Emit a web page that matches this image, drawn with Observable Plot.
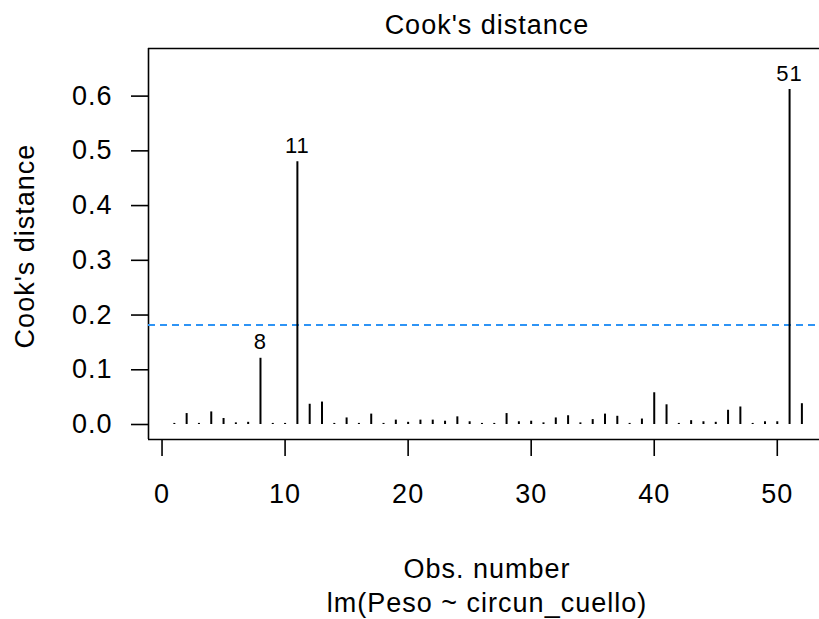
<!DOCTYPE html>
<html>
<head>
<meta charset="utf-8">
<script src="https://cdn.jsdelivr.net/npm/d3@7"></script>
<script src="https://cdn.jsdelivr.net/npm/@observablehq/plot@0.6"></script>
<style>
  html, body { margin: 0; padding: 0; background: white; overflow: hidden; }
</style>
</head>
<body>
<div id="chart"></div>
<script>
const obsNumbers = d3.range(1, 53);
const cookValues = [
  0.002, 0.020, 0.002, 0.023, 0.011, 0.003, 0.004, 0.121, 0.002, 0.002,
  0.480, 0.037, 0.041, 0.002, 0.012, 0.002, 0.019, 0.002, 0.008, 0.004,
  0.008, 0.008, 0.006, 0.014, 0.005, 0.002, 0.002, 0.020, 0.005, 0.006,
  0.003, 0.012, 0.016, 0.003, 0.009, 0.019, 0.015, 0.002, 0.010, 0.058,
  0.036, 0.002, 0.007, 0.005, 0.004, 0.026, 0.032, 0.002, 0.005, 0.005,
  0.612, 0.038
];
const labelledObs = [8, 11, 51];
const threshold = 0.182;
const xTicks = [0, 10, 20, 30, 40, 50];
const yTicks = [0, 0.1, 0.2, 0.3, 0.4, 0.5, 0.6];
const titleText = "Cook's distance";
const yTitle = "Cook's distance";
const xTitle = "Obs. number";
const subTitle = "lm(Peso ~ circun_cuello)";

const data = obsNumbers.map((n, i) => ({obs: n, cook: cookValues[i]}));
const labelled = data.filter(d => labelledObs.includes(d.obs));

const xDomain = [-1.1, 54];
const yDomain = [-0.0274, 0.687];

const chart = Plot.plot({
  width: 819,
  height: 619,
  marginTop: 48,
  marginBottom: 180,
  marginLeft: 148,
  marginRight: 0,
  style: {
    fontFamily: "'Liberation Sans', Arial, sans-serif",
    fontSize: "27px",
    background: "white",
    overflow: "hidden",
    color: "black",
    letterSpacing: "1px"
  },
  x: {domain: xDomain, range: [148, 826]},
  y: {domain: yDomain},
  marks: [
    // box (top, bottom, left)
    Plot.ruleY([yDomain[0], yDomain[1]], {stroke: "black", strokeWidth: 1.6}),
    Plot.ruleX([xDomain[0]], {stroke: "black", strokeWidth: 1.6}),
    // threshold
    Plot.ruleY([threshold], {stroke: "#2E94F5", strokeWidth: 2, strokeDasharray: "7,5"}),
    // spikes
    Plot.ruleX(data, {x: "obs", y1: 0, y2: "cook", stroke: "black", strokeWidth: 2}),
    Plot.text(labelled, {x: "obs", y: "cook", text: d => String(d.obs), lineAnchor: "bottom", dy: -9, fontSize: 22, letterSpacing: "0.5px"}),
    // axes
    Plot.axisX({ticks: xTicks, tickSize: 17, tickPadding: 27, fontSize: 27, label: null, tickFormat: d3.format("d"), strokeWidth: 1.6}),
    Plot.axisY({ticks: yTicks, tickSize: 17, tickPadding: 19, fontSize: 27, label: null, tickFormat: d3.format(".1f"), strokeWidth: 1.6}),
    // titles
    Plot.text([titleText], {frameAnchor: "top", lineAnchor: "bottom", dy: -15, dx: 3, fontSize: 27}),
    Plot.text([xTitle], {frameAnchor: "bottom", lineAnchor: "bottom", dy: 138, dx: 3, fontSize: 27}),
    Plot.text([subTitle], {frameAnchor: "bottom", lineAnchor: "bottom", dy: 172, dx: 3, fontSize: 27}),
    Plot.text([yTitle], {frameAnchor: "left", textAnchor: "middle", rotate: -90, lineAnchor: "bottom", dx: -115, dy: 2, fontSize: 27})
  ]
});
document.getElementById("chart").appendChild(chart);
</script>
</body>
</html>
